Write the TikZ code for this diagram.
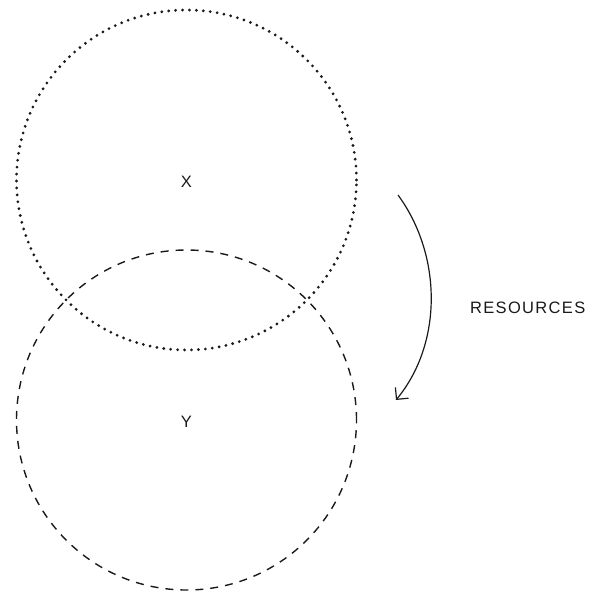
\documentclass[tikz,border=0pt]{standalone}
\usepackage{fontspec}
\setmainfont{Liberation Sans}
\newfontfamily\spacedfont[LetterSpace=8]{Liberation Sans}
\usetikzlibrary{arrows.meta}
\definecolor{ink}{HTML}{1A1A1A}
\tikzset{
  set/.style={circle, minimum size=340pt, inner sep=0pt, draw=ink},
  dotset/.style={set, line width=3.1pt, line cap=round, dash pattern=on 0pt off 6.95pt},
  dashset/.style={set, line width=1.4pt, dash pattern=on 8pt off 7pt},
  lbl/.style={text=ink, font=\fontsize{16.5}{19}\selectfont},
  flow/.style={draw=ink, line width=1.2pt, -{Straight Barb[length=8.5pt,width=17pt]}}
}
\begin{document}
\begin{tikzpicture}[x=1pt,y=-1pt]
  \useasboundingbox (0,0) rectangle (591,594);
  % the two overlapping sets
  \node[dotset] (xset) at (186.5,180) {};
  \node[dashset] (yset) at (186.5,420) {};
  \node[lbl] (xlabel) at (186.5,182) {X};
  \node[lbl] (ylabel) at (186.5,422) {Y};
  % transfer arrow and its caption
  \coordinate (from) at (398,195);
  \coordinate (to) at (396,400);
  \draw[flow] (from) .. controls (442,255) and (443,343) .. (to);
  \node[lbl, anchor=west, inner sep=0pt, font=\spacedfont\fontsize{16.5}{19}\selectfont] (res) at (470,307.5) {RESOURCES};
\end{tikzpicture}
\end{document}
